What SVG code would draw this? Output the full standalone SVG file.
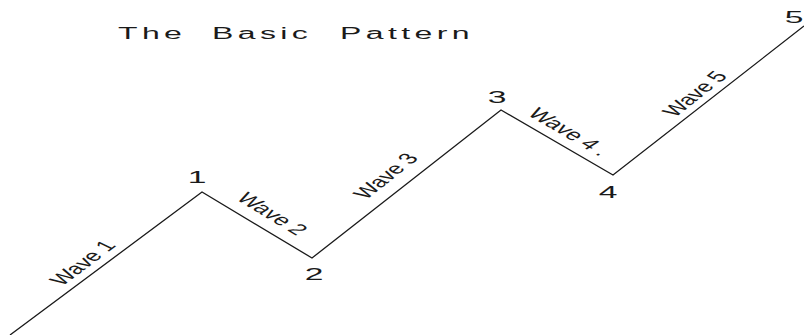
<svg xmlns="http://www.w3.org/2000/svg" width="804" height="335" viewBox="0 0 804 335">
<style>
text{font-family:"Liberation Sans",Arial,sans-serif;fill:#1a1a1a}
.num{font-size:16px;text-anchor:middle}
.wave{font-size:26px;text-anchor:middle;dominant-baseline:central}
.ttl{font-size:16px;letter-spacing:2.2px}
.line{fill:none;stroke:#1a1a1a;stroke-width:1.3;stroke-linejoin:miter}
</style>
<rect width="804" height="335" fill="#fff"/>
<g id="title">
<text class="ttl" transform="translate(118,39) scale(2,1)">The</text>
<text class="ttl" transform="translate(212,39) scale(2,1)">Basic</text>
<text class="ttl" transform="translate(340,39) scale(2,1)">Pattern</text>
</g>
<g id="connectors">
<polyline class="line" points="10,335 202,192 312,258 501,110 613,175 804,26"/>
</g>
<g id="wave1"><g transform="translate(83,263) scale(1,0.6) rotate(-51.2)"><text class="wave">Wave 1</text></g></g>
<g id="wave2"><g transform="translate(272,214) scale(1,0.6) rotate(45)"><text class="wave">Wave 2</text></g></g>
<g id="wave3"><g transform="translate(386,176) scale(1,0.6) rotate(-52.7)"><text class="wave">Wave 3</text></g></g>
<g id="wave4"><g transform="translate(569,132) scale(1,0.6) rotate(44)"><text class="wave">Wave 4 .</text></g></g>
<g id="wave5"><g transform="translate(695,94) scale(1,0.6) rotate(-52.4)"><text class="wave">Wave 5</text></g></g>
<g id="point1"><text class="num" transform="translate(197,183) scale(2.1,1)">1</text></g>
<g id="point2"><text class="num" transform="translate(314,280) scale(2.1,1)">2</text></g>
<g id="point3"><text class="num" transform="translate(497,103) scale(2.1,1)">3</text></g>
<g id="point4"><text class="num" transform="translate(608,198) scale(2.1,1)">4</text></g>
<g id="point5"><text class="num" transform="translate(794,23) scale(2.1,1)">5</text></g>
</svg>
